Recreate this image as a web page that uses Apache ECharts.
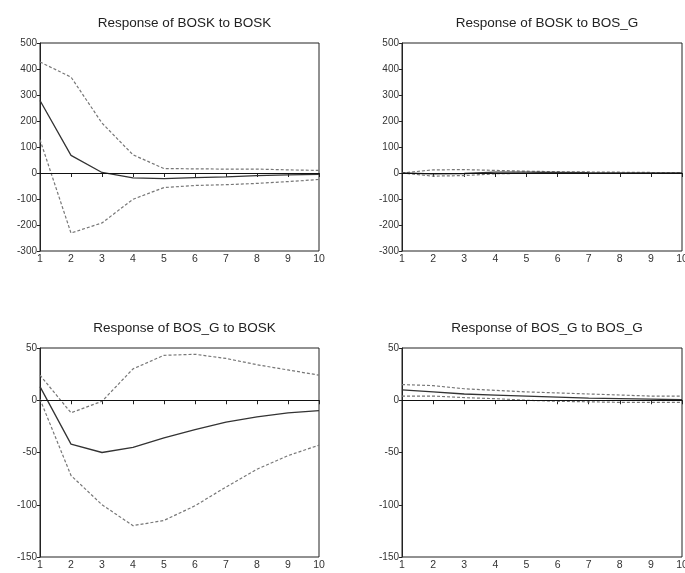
<!DOCTYPE html>
<html>
<head>
<meta charset="utf-8">
<script src="https://cdn.jsdelivr.net/npm/echarts@6/dist/echarts.min.js"></script>
<style>
  html, body { margin: 0; padding: 0; background: #fff; }
  #chart { width: 685px; height: 573px; }
</style>
</head>
<body>
<div id="chart"></div>
<script>
// periods after the shock
const periods = ['1', '2', '3', '4', '5', '6', '7', '8', '9', '10'];

// Response of BOSK to BOSK
const boskBoskMid = [279, 68, 2, -19, -22, -18, -15, -10, -7, -5];
const boskBoskUp = [427, 369, 192, 70, 17, 16, 15, 15, 12, 10];
const boskBoskLo = [128, -231, -192, -101, -56, -48, -45, -40, -33, -25];

// Response of BOSK to BOS_G
const boskBosgMid = [0, -3, -2, 3, 3, 2, 1, 0.5, 0.3, 0.2];
const boskBosgUp = [0, 12, 13, 10, 7, 5, 4, 3, 2, 2];
const boskBosgLo = [0, -12, -10, -3, -1, -1, -1, -1, -1, -1];

// Response of BOS_G to BOSK
const bosgBoskMid = [13, -42, -50, -45, -36, -28, -21, -16, -12, -10];
const bosgBoskUp = [24, -12, -1, 30, 43, 44, 40, 34, 29, 24];
const bosgBoskLo = [1, -72, -100, -120, -115, -101, -83, -66, -53, -43];

// Response of BOS_G to BOS_G
const bosgBosgMid = [10, 8, 6, 5, 4, 3, 2, 1.5, 1, 0.5];
const bosgBosgUp = [15, 14, 11, 9.5, 8, 7, 6, 5, 4, 4];
const bosgBosgLo = [4, 4, 2.5, 1.5, 0, -1, -1.5, -2, -2, -2];

const titles = [
  'Response of BOSK to BOSK',
  'Response of BOSK to BOS_G',
  'Response of BOS_G to BOSK',
  'Response of BOS_G to BOS_G'
];
const panels = [
  { mid: boskBoskMid, up: boskBoskUp, lo: boskBoskLo, min: -300, max: 500, step: 100 },
  { mid: boskBosgMid, up: boskBosgUp, lo: boskBosgLo, min: -300, max: 500, step: 100 },
  { mid: bosgBoskMid, up: bosgBoskUp, lo: bosgBoskLo, min: -150, max: 50, step: 50 },
  { mid: bosgBosgMid, up: bosgBosgUp, lo: bosgBosgLo, min: -150, max: 50, step: 50 }
];

const boxes = [
  { left: 40, top: 43, width: 279, height: 208 },
  { left: 402, top: 43, width: 280, height: 208 },
  { left: 40, top: 348, width: 279, height: 209 },
  { left: 402, top: 348, width: 280, height: 209 }
];
const font = 'Liberation Sans, Arial, sans-serif';

const chart = echarts.init(document.getElementById('chart'));

const grid = [], xAxis = [], yAxis = [], series = [], title = [];
panels.forEach((p, i) => {
  const b = boxes[i];
  grid.push({ left: b.left, top: b.top, width: b.width, height: b.height,
    outerBoundsMode: 'none', containLabel: false,
    show: true, borderColor: '#222', borderWidth: 1, backgroundColor: '#fff' });
  title.push({
    text: titles[i], left: b.left + b.width / 2, top: b.top - 32, textAlign: 'center',
    textStyle: { fontFamily: font, fontSize: 13.5, fontWeight: 'normal', color: '#222' }
  });
  xAxis.push({
    type: 'category', gridIndex: i, data: periods, boundaryGap: false,
    axisLine: { lineStyle: { color: '#222', width: 1 } },
    axisTick: { show: true, length: 4, alignWithLabel: true, lineStyle: { color: '#222' } },
    axisLabel: { fontFamily: font, fontSize: 10.5, color: '#333', margin: 3, interval: 0 },
    splitLine: { show: false }
  });
  yAxis.push({
    type: 'value', gridIndex: i, min: p.min, max: p.max, interval: p.step,
    axisLine: { show: true, lineStyle: { color: '#222', width: 1 } },
    axisTick: { show: true, length: 3, lineStyle: { color: '#222' } },
    axisLabel: { fontFamily: font, fontSize: 10, color: '#333', margin: 3 },
    splitLine: { show: false }
  });
  const common = { type: 'line', xAxisIndex: i, yAxisIndex: i, symbol: 'none', silent: true, animation: false };
  series.push(Object.assign({}, common, {
    data: p.up, lineStyle: { color: '#777', width: 1.2, type: [3, 2] }
  }));
  series.push(Object.assign({}, common, {
    data: p.lo, lineStyle: { color: '#777', width: 1.2, type: [3, 2] }
  }));
  series.push(Object.assign({}, common, {
    data: p.mid, z: 3, lineStyle: { color: '#333', width: 1.3 },
    markLine: {
      silent: true, symbol: 'none', label: { show: false },
      lineStyle: { color: '#111', width: 1, type: 'solid' },
      data: [{ yAxis: 0 }]
    }
  }));
});

chart.setOption({
  animation: false,
  title: title,
  grid: grid,
  xAxis: xAxis,
  yAxis: yAxis,
  series: series
});
</script>
</body>
</html>
